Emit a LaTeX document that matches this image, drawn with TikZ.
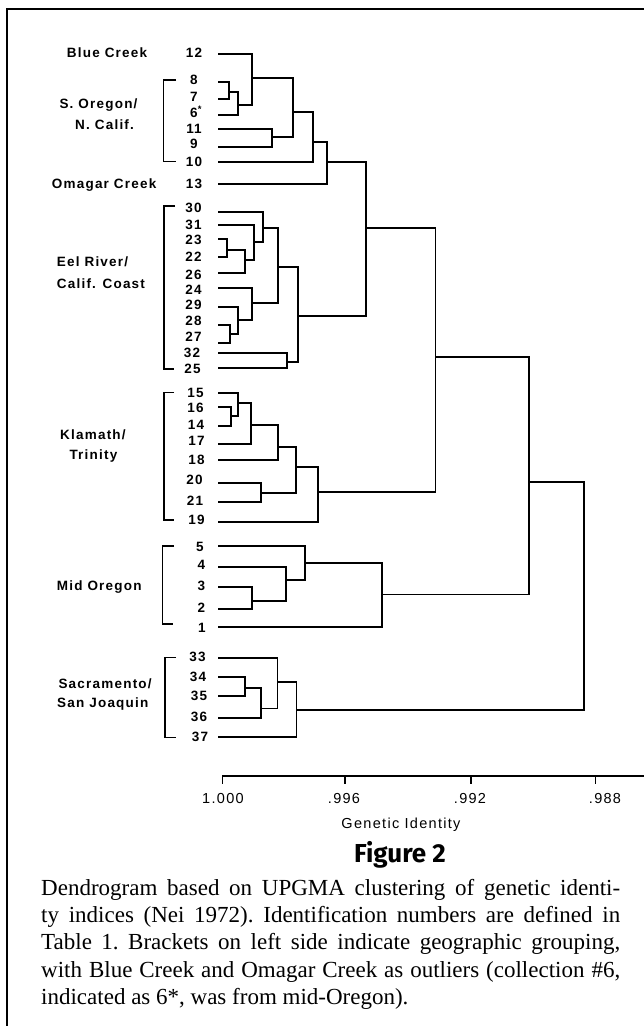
\documentclass[tikz,border=0pt]{standalone}
\usepackage{fontspec}
\newfontfamily\labfam[LetterSpace=9]{Liberation Sans}
\newfontfamily\figfam{Fira Sans}
\newfontfamily\capfam{Liberation Serif}
\newcommand\capfont{\capfam\fontsize{23}{27.3}\selectfont\frenchspacing}
\newcommand\lf[5]{% name, text, label x, label centre y, line y
  \node[num] (t#1) at (#3,#4+4.7) {#2};
  \coordinate (p#1) at (218,#5);}
\begin{document}
\begin{tikzpicture}[x=1pt,y=-1pt,
  lab/.style={font=\labfam\bfseries\fontsize{13.5}{15}\selectfont, inner sep=0pt},
  num/.style={lab, anchor=base},
  grp/.style={lab, anchor=base west},
  axlab/.style={font=\labfam\fontsize{14.5}{16}\selectfont, inner sep=0pt, anchor=base},
  br/.style={line width=1.4pt},
  tr/.style={line width=1.8pt},
  frame/.style={line width=2pt},
]
\useasboundingbox (0,0) rectangle (644,1026);
\draw[frame] (7,1026) -- (7,9) -- (644,9);

% ---- leaves ----
\lf{12}{12}{194}{52.3}{54}
\lf{8}{8}{194}{80}{82}
\lf{7}{7}{194}{96.7}{99}
\lf{6}{6\rlap{\textsuperscript{*}}}{194}{112.7}{115}
\lf{11}{11}{194}{129}{129}
\lf{9}{9}{194}{143.3}{147}
\lf{10}{10}{194}{161.7}{162}
\lf{13}{13}{194}{184}{184}
\lf{30}{30}{193.5}{207.3}{211.7}
\lf{31}{31}{193.5}{225}{225}
\lf{23}{23}{193.5}{239.3}{239.3}
\lf{22}{22}{193.5}{256.7}{257.3}
\lf{26}{26}{193.5}{275}{272.7}
\lf{24}{24}{193.5}{290}{288.3}
\lf{29}{29}{193.5}{305}{306.7}
\lf{28}{28}{193.5}{321}{325}
\lf{27}{27}{193.5}{336.7}{343.3}
\lf{32}{32}{192}{352.3}{353.3}
\lf{25}{25}{192.5}{369}{368.3}
\lf{15}{15}{195.5}{392.7}{392.7}
\lf{16}{16}{195.5}{407.3}{406.7}
\lf{14}{14}{196}{425}{426}
\lf{17}{17}{196.5}{440.7}{444}
\lf{18}{18}{196.5}{460}{460}
\lf{20}{20}{194.5}{480}{482.7}
\lf{21}{21}{195}{500.7}{501.7}
\lf{19}{19}{196.5}{520}{521.7}
\lf{5}{5}{200}{547}{545.7}
\lf{4}{4}{201.5}{565}{567.3}
\lf{3}{3}{201.5}{585.7}{586.7}
\lf{2}{2}{201.5}{607.3}{609.3}
\lf{1}{1}{202}{627.3}{627.3}
\lf{33}{33}{197.5}{656.7}{657.7}
\lf{34}{34}{198}{676.7}{676.7}
\lf{35}{35}{199}{695.7}{695.7}
\lf{36}{36}{199}{716.7}{718.3}
\lf{37}{37}{200}{736.7}{737.3}

% ---- internal nodes ----
\coordinate (na) at (229.3,91.7);
\coordinate (nb) at (238.3,105);
\coordinate (nc) at (251.7,78.3);
\coordinate (nd) at (271.7,137.3);
\coordinate (ne) at (293.3,111.7);
\coordinate (nf) at (313.3,141.7);
\coordinate (ng) at (326.7,161.7);
\coordinate (nh) at (226.7,250);
\coordinate (ni) at (245,260);
\coordinate (nj) at (254,241.7);
\coordinate (nk) at (262.7,228.3);
\coordinate (nl) at (230,334);
\coordinate (nm) at (238.3,320);
\coordinate (nn) at (251.7,302.7);
\coordinate (no) at (277.7,267.3);
\coordinate (np) at (286.7,361.7);
\coordinate (nq) at (298.3,316);
\coordinate (nr) at (365.7,227.7);
\coordinate (ns) at (230.7,416);
\coordinate (nt) at (238.3,402.7);
\coordinate (nu) at (250.7,425);
\coordinate (nv) at (278.3,446.7);
\coordinate (nw) at (260.7,492.7);
\coordinate (nx) at (296,466.7);
\coordinate (ny) at (318.3,491.7);
\coordinate (nz) at (435.5,357.3);
\coordinate (m1) at (251.7,600.7);
\coordinate (m2) at (286,580);
\coordinate (m3) at (305,563.3);
\coordinate (m4) at (382.3,594.5);
\coordinate (ntop) at (529,481.7);
\coordinate (s1) at (245,688);
\coordinate (s2) at (261,708.5);
\coordinate (s3) at (277.5,682);
\coordinate (s4) at (296.5,710);
\coordinate (nroot) at (584,596);

% ---- tree ----
\begin{scope}[tr]
\draw (p8) -| (na); \draw (p7) -| (na);
\draw (na) -| (nb); \draw (p6) -| (nb);
\draw (p12) -| (nc); \draw (nb) -| (nc);
\draw (p11) -| (nd); \draw (p9) -| (nd);
\draw (nc) -| (ne); \draw (nd) -| (ne);
\draw (ne) -| (nf); \draw (p10) -| (nf);
\draw (nf) -| (ng); \draw (p13) -| (ng);
\draw (p23) -| (nh); \draw (p22) -| (nh);
\draw (nh) -| (ni); \draw (p26) -| (ni);
\draw (p31) -| (nj); \draw (ni) -| (nj);
\draw (p30) -| (nk); \draw (nj) -| (nk);
\draw (p28) -| (nl); \draw (p27) -| (nl);
\draw (p29) -| (nm); \draw (nl) -| (nm);
\draw (p24) -| (nn); \draw (nm) -| (nn);
\draw (nk) -| (no); \draw (nn) -| (no);
\draw (p32) -| (np); \draw (p25) -| (np);
\draw (no) -| (nq); \draw (np) -| (nq);
\draw (ng) -| (nr); \draw (nq) -| (nr);
\draw (p16) -| (ns); \draw (p14) -| (ns);
\draw (p15) -| (nt); \draw (ns) -| (nt);
\draw (nt) -| (nu); \draw (p17) -| (nu);
\draw (nu) -| (nv); \draw (p18) -| (nv);
\draw (p20) -| (nw); \draw (p21) -| (nw);
\draw (nv) -| (nx); \draw (nw) -| (nx);
\draw (nx) -| (ny); \draw (p19) -| (ny);
\draw (nr) -| (nz); \draw (ny) -| (nz);
\draw (p3) -| (m1); \draw (p2) -| (m1);
\draw (p4) -| (m2); \draw (m1) -| (m2);
\draw (p5) -| (m3); \draw (m2) -| (m3);
\draw (m3) -| (m4); \draw (p1) -| (m4);
\draw (nz) -| (ntop); \draw (m4) -| (ntop);
\draw (p34) -| (s1); \draw (p35) -| (s1);
\draw (s1) -| (s2); \draw (p36) -| (s2);
\draw (p33) -| (s3); \draw (s2) -| (s3);
\draw (s3) -| (s4); \draw (p37) -| (s4);
\draw (ntop) -| (nroot); \draw (s4) -| (nroot);
\end{scope}

% ---- group brackets ----
\draw[br] (176,80) -- (163.3,80) -- (163.3,161.7) -- (176,161.7);
\draw[br] (175,206) -- (164,206) -- (164,369) -- (174,369);
\draw[br] (174,392.7) -- (164,392.7) -- (164,520) -- (174,520);
\draw[br] (174,546) -- (162.7,546) -- (162.7,624) -- (173,624);
\draw[br] (176,657.7) -- (165,657.7) -- (165,737.3) -- (176,737.3);

% ---- group labels ----
\node[grp] (gblue) at (66.7,57) {Blue Creek};
\node[grp] (gso1) at (59.3,108.8) {S. Oregon/};
\node[grp] (gso2) at (75,129.8) {N. Calif.};
\node[grp] (gom) at (51.7,188.8) {Omagar Creek};
\node[grp] (gel1) at (56.7,266.5) {Eel River/};
\node[grp] (gel2) at (56.7,288.1) {Calif. Coast};
\node[grp] (gkl1) at (60,439.8) {Klamath/};
\node[grp] (gkl2) at (69.3,459.8) {Trinity};
\node[grp] (gmid) at (56.7,590.5) {Mid Oregon};
\node[grp] (gsa1) at (58.3,688.1) {Sacramento/};
\node[grp] (gsa2) at (57,707.8) {San Joaquin};

% ---- axis ----
\coordinate (axl) at (222,776);
\coordinate (axr) at (644,776);
\draw[tr] (axl) -- (axr);
\foreach \tx/\tl/\lx in {222.7/1.000/223, 345/.996/344, 471/.992/470, 595.7/.988/605}{
  \draw[br] (\tx,776) -- (\tx,784);
  \node[axlab] at (\lx,803.7) {\tl};
}
\node[axlab] (axtitle) at (401,828) {Genetic Identity};

% ---- caption ----
\node[inner sep=0pt, anchor=base, font=\figfam\bfseries\fontsize{26}{30}\selectfont] (fig) at (400,862) {Figure 2};
\node[inner sep=0pt, anchor=base west] (c1) at (41,895.3) {\capfont\hbox to 579pt{Dendrogram based on UPGMA clustering of genetic identi-}};
\node[inner sep=0pt, anchor=base west] (c2) at (41,922.6) {\capfont\hbox to 579pt{ty indices (Nei 1972). Identification numbers are defined in}};
\node[inner sep=0pt, anchor=base west] (c3) at (41,949.9) {\capfont\hbox to 579pt{Table 1. Brackets on left side indicate geographic grouping,}};
\node[inner sep=0pt, anchor=base west] (c4) at (41,977.2) {\capfont\hbox to 579pt{with Blue Creek and Omagar Creek as outliers (collection \#6,}};
\node[inner sep=0pt, anchor=base west] (c5) at (41,1004.5) {\capfont indicated as 6*, was from mid-Oregon).};
\end{tikzpicture}
\end{document}
